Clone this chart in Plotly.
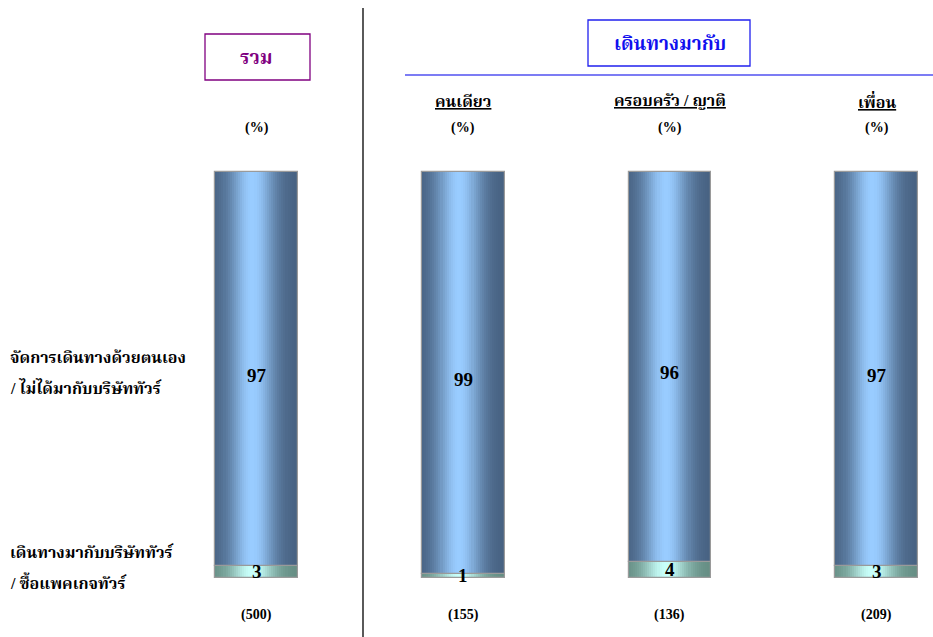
import math
import plotly.graph_objects as go

# ---------------- data ----------------
groups = ["รวม", "คนเดียว", "ครอบครัว / ญาติ", "เพื่อน"]
self_arranged = [97, 99, 96, 97]   # จัดการเดินทางด้วยตนเอง / ไม่ได้มากับบริษัททัวร์
with_tour = [3, 1, 4, 3]           # เดินทางมากับบริษัททัวร์ / ซื้อแพคเกจทัวร์
base_n = ["(500)", "(155)", "(136)", "(209)"]
row_label_self = ["จัดการเดินทางด้วยตนเอง", "/ ไม่ได้มากับบริษัททัวร์"]
row_label_tour = ["เดินทางมากับบริษัททัวร์", "/ ซื้อแพคเกจทัวร์"]
group_header = "เดินทางมากับ"
total_header = "รวม"

# ---------------- layout constants ----------------
W, H = 933, 637
FONT = "Liberation Serif, Noto Serif Thai, Noto Sans Thai, Tahoma, serif"
BAR_W = 0.40
N_SLICES = 40
xs = list(range(len(groups)))


def px(x):
    return x / W


def py(y):
    return 1 - y / H


def grad_color(dark, light, t):
    k = math.exp(-((t - 0.45) / 0.27) ** 2)
    c = [int(round(d + (l - d) * k)) for d, l in zip(dark, light)]
    return "rgb(%d,%d,%d)" % tuple(c)


fig = go.Figure()

seg_specs = [
    (with_tour, [0] * len(groups), (100, 140, 130), (200, 255, 250)),
    (self_arranged, with_tour, (70, 96, 128), (153, 204, 255)),
]
sw = BAR_W / N_SLICES
for vals, bases, dark, light in seg_specs:
    for k in range(N_SLICES):
        t = (k + 0.5) / N_SLICES
        fig.add_trace(go.Bar(
            x=xs, y=vals, base=bases, width=sw * 1.05,
            offset=-BAR_W / 2 + k * sw,
            marker=dict(color=grad_color(dark, light, t), line=dict(width=0)),
            hoverinfo="skip", showlegend=False))
    fig.add_trace(go.Bar(
        x=xs, y=vals, base=bases, width=BAR_W,
        marker=dict(color="rgba(0,0,0,0)", line=dict(width=1.2, color="#9a9a9a")),
        hoverinfo="skip", showlegend=False))


def ann(x, y, text, size, color="black", xref="x", xanchor="center"):
    return dict(x=x, y=py(y), xref=xref, yref="paper", text=text, showarrow=False,
                xanchor=xanchor, yanchor="middle",
                font=dict(family=FONT, size=size, color=color))


annotations = []
for i in xs:
    annotations.append(dict(x=i, y=with_tour[i] + self_arranged[i] / 2 - 1.5, xref="x", yref="y",
                            text="<b>%d</b>" % self_arranged[i], showarrow=False,
                            xanchor="center", yanchor="middle",
                            font=dict(family=FONT, size=19, color="black")))
    annotations.append(dict(x=i, y=with_tour[i] / 2, xref="x", yref="y",
                            text="<b>%d</b>" % with_tour[i], showarrow=False,
                            xanchor="center", yanchor="middle",
                            font=dict(family=FONT, size=19, color="black")))
    annotations.append(ann(i, 128, "<b>(%)</b>", 14))
    annotations.append(ann(i, 615, "<b>%s</b>" % base_n[i], 14))
    if i > 0:
        annotations.append(ann(i, 101, "<b><u>%s</u></b>" % groups[i], 16))

annotations.append(ann(0, 57, "<b>%s</b>" % total_header, 19, "#800080"))
annotations.append(ann(2, 43, "<b>%s</b>" % group_header, 19, "#1010ee"))
for j, line in enumerate(row_label_self):
    annotations.append(ann(px(8), 357 + 30 * j, "<b>%s</b>" % line, 16, xref="paper", xanchor="left"))
for j, line in enumerate(row_label_tour):
    annotations.append(ann(px(8), 552 + 30 * j, "<b>%s</b>" % line, 16, xref="paper", xanchor="left"))

shapes = [
    dict(type="rect", xref="paper", yref="paper", x0=px(205), x1=px(310), y0=py(34), y1=py(80),
         line=dict(color="#800080", width=1.3)),
    dict(type="rect", xref="paper", yref="paper", x0=px(588), x1=px(750), y0=py(20), y1=py(66),
         line=dict(color="#2020ee", width=1.3)),
    dict(type="line", xref="paper", yref="paper", x0=px(405), x1=px(933), y0=py(75), y1=py(75),
         line=dict(color="#5050f0", width=1.5)),
    dict(type="line", xref="paper", yref="paper", x0=px(363), x1=px(363), y0=py(8), y1=py(637),
         line=dict(color="black", width=1.3)),
]

scale_x = (876.5 - 256.5) / 3
scale_y = (578 - 172) / 100
fig.update_layout(
    width=W, height=H, margin=dict(l=0, r=0, t=0, b=0),
    paper_bgcolor="white", plot_bgcolor="white",
    barmode="overlay", bargap=0,
    xaxis=dict(range=[-256.5 / scale_x, (W - 256.5) / scale_x], visible=False, fixedrange=True),
    yaxis=dict(range=[-(H - 578) / scale_y, 578 / scale_y], visible=False, fixedrange=True),
    annotations=annotations, shapes=shapes, showlegend=False,
)

fig.write_html("out.html", config={"displayModeBar": False},
               post_script="document.body.style.margin='0';document.body.style.overflow='hidden';")
